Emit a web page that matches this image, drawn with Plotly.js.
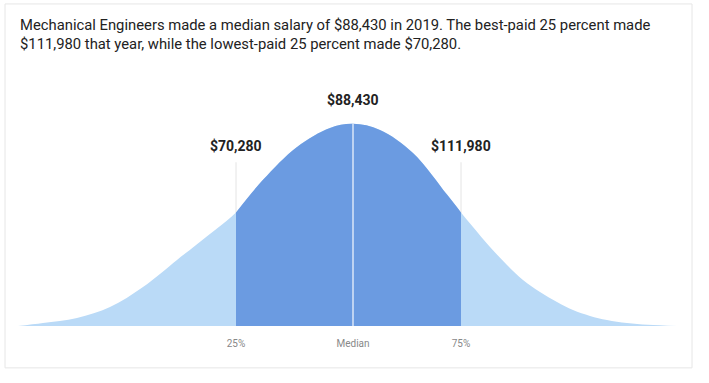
<!DOCTYPE html>
<html>
<head>
<meta charset="utf-8">
<script src="https://cdn.plot.ly/plotly-3.0.1.min.js"></script>
<style>html,body{margin:0;padding:0;background:#fff;}#chart{width:709px;height:383px;}</style>
</head>
<body>
<div id="chart"></div>
<script>
// Relative position along the salary distribution (median = 0) and curve height (peak = 1)
const positions = [-3.35, -3.10, -2.76, -2.43, -2.10, -1.76, -1.56, -1.36, -1.17, -0.90, -0.56, -0.23, 0, 0.27, 0.60, 0.94, 1.08, 1.20, 1.37, 1.54, 1.70, 1.87, 2.04, 2.20, 2.37, 2.54, 2.74, 2.95, 3.24];
const density   = [0, 0.015, 0.04, 0.094, 0.193, 0.327, 0.405, 0.482, 0.562, 0.723, 0.886, 0.98, 1.0, 0.97, 0.856, 0.65, 0.562, 0.49, 0.391, 0.302, 0.228, 0.168, 0.119, 0.079, 0.050, 0.030, 0.015, 0.006, 0];

const markerPositions = [-1.17, 0, 1.08];
const salaryLabels = ['$70,280', '$88,430', '$111,980'];
const tickLabels = ['25%', 'Median', '75%'];
const titleText = 'Mechanical Engineers made a median salary of $88,430 in 2019. The best-paid 25 percent made<br>$111,980 that year, while the lowest-paid 25 percent made $70,280.';

const q1 = markerPositions[0], q3 = markerPositions[2];
const midX = [], midY = [];
positions.forEach((p, i) => { if (p >= q1 && p <= q3) { midX.push(p); midY.push(density[i]); } });
const peak = Math.max(...density);

const traces = [
  { x: positions, y: density, type: 'scatter', mode: 'lines', line: { width: 0, shape: 'spline', smoothing: 1 },
    fill: 'tozeroy', fillcolor: '#badaf7', hoverinfo: 'skip' },
  { x: midX, y: midY, type: 'scatter', mode: 'lines', line: { width: 0, shape: 'spline', smoothing: 1 },
    fill: 'tozeroy', fillcolor: '#6b9be1', hoverinfo: 'skip' }
];

const shapes = [
  { type: 'rect', xref: 'paper', yref: 'paper', x0: -0.0197, x1: 1.0228, y0: -0.148, y1: 1.138,
    line: { color: '#e6e6e6', width: 1 }, fillcolor: 'rgba(0,0,0,0)', layer: 'below' },
  { type: 'line', xref: 'x', yref: 'y', x0: q1, x1: q1, y0: 0, y1: 0.81, line: { color: '#e4e4e4', width: 1 }, layer: 'below' },
  { type: 'line', xref: 'x', yref: 'y', x0: q3, x1: q3, y0: 0, y1: 0.81, line: { color: '#e4e4e4', width: 1 }, layer: 'below' },
  { type: 'line', xref: 'x', yref: 'y', x0: markerPositions[1], x1: markerPositions[1], y0: 0, y1: peak,
    line: { color: 'rgba(255,255,255,0.75)', width: 1.5 }, layer: 'above' }
];

const labelY = [0.891, 1.119, 0.891];
const annotations = markerPositions.map((p, i) => ({
  x: p, y: labelY[i], xref: 'x', yref: 'y', text: '<b>' + salaryLabels[i] + '</b>', showarrow: false,
  font: { family: 'Roboto, sans-serif', size: 14, color: '#222' }, xanchor: 'center', yanchor: 'middle'
}));
annotations.push({
  x: 0, y: 1.031, xref: 'paper', yref: 'paper', text: titleText, showarrow: false, align: 'left',
  xanchor: 'left', yanchor: 'middle', font: { family: 'Roboto, sans-serif', size: 14.8, color: '#222' }
});

const layout = {
  width: 709, height: 383,
  margin: { l: 18, r: 32, t: 43, b: 57 },
  paper_bgcolor: '#fff', plot_bgcolor: '#fff',
  showlegend: false,
  xaxis: { range: [-3.35, 3.24], showgrid: false, zeroline: false, showline: false,
    tickmode: 'array', tickvals: markerPositions, ticktext: tickLabels,
    ticks: 'outside', ticklen: 8, tickcolor: 'rgba(0,0,0,0)',
    tickfont: { family: 'Roboto, sans-serif', size: 10, color: '#888' }, fixedrange: true },
  yaxis: { range: [0, 1.4], visible: false, fixedrange: true },
  shapes: shapes,
  annotations: annotations
};

Plotly.newPlot('chart', traces, layout, { displayModeBar: false, staticPlot: true });
</script>
</body>
</html>
